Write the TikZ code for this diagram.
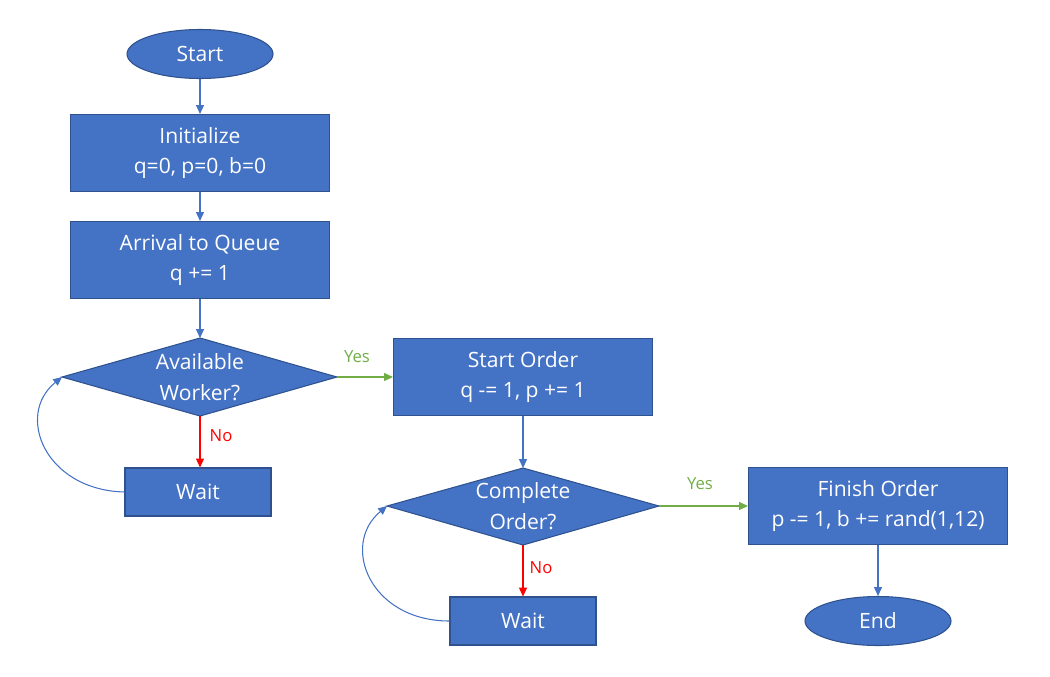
\documentclass[tikz,border=0pt]{standalone}
\usepackage{fontspec}
\setmainfont{Open Sans}
\usetikzlibrary{shapes.geometric,arrows.meta}
\definecolor{boxfill}{HTML}{4472C4}
\definecolor{boxline}{HTML}{2F528F}
\definecolor{yesgreen}{HTML}{70AD47}
\definecolor{nored}{HTML}{FF0000}
\tikzset{
  base/.style={fill=boxfill,draw=boxline,line width=0.6pt,text=white,align=center,inner sep=0pt,
    font=\fontsize{12}{17.6}\selectfont},
  procbox/.style={base,rectangle,minimum width=259*0.02cm,minimum height=77*0.02cm},
  waitbox/.style={base,rectangle,minimum width=146*0.02cm,minimum height=48*0.02cm},
  termnode/.style={base,ellipse,minimum width=146*0.02cm,minimum height=49*0.02cm},
  dectext/.style={text=white,align=center,inner sep=0pt,font=\fontsize{12}{17.6}\selectfont},
  decfill/.style={fill=boxfill,draw=boxline,line width=0.6pt},
  flow/.style={draw=boxfill,line width=0.6pt,-{Triangle[length=5pt,width=4.5pt]}},
  yesflow/.style={draw=yesgreen,line width=0.6pt,-{Triangle[length=5pt,width=4.5pt]}},
  noflow/.style={draw=nored,line width=0.6pt,-{Triangle[length=5pt,width=4.5pt]}},
  yeslab/.style={text=yesgreen,font=\fontsize{9.5}{11}\selectfont},
  nolab/.style={text=nored,font=\fontsize{9.5}{11}\selectfont},
}
\begin{document}
\begin{tikzpicture}[x=0.02cm,y=-0.02cm]
\useasboundingbox (0,0) rectangle (1050,676);
\node[termnode] (start) at (200,54) {Start};
\node[procbox] (init) at (200,153) {Initialize\\q=0, p=0, b=0};
\node[procbox] (arr) at (200,260) {Arrival to Queue\\q += 1};
\path (62,377) coordinate (d1l) (337,377) coordinate (d1r) (200,338) coordinate (d1t) (200,416) coordinate (d1b);
\path[decfill] (d1l) -- (d1t) -- (d1r) -- (d1b) -- cycle;
\node[dectext] (avail) at (200,377) {Available\\Worker?};
\node[waitbox] (wait1) at (198,492) {Wait};
\node[procbox] (sorder) at (523,377) {Start Order\\q -= 1, p += 1};
\path (387,506) coordinate (d2l) (659,506) coordinate (d2r) (523,468) coordinate (d2t) (523,545) coordinate (d2b);
\path[decfill] (d2l) -- (d2t) -- (d2r) -- (d2b) -- cycle;
\node[dectext] (comp) at (523,506) {Complete\\Order?};
\node[waitbox] (wait2) at (523,621) {Wait};
\node[procbox] (forder) at (878,506) {Finish Order\\p -= 1, b += rand(1,12)};
\node[termnode] (end) at (878,621) {End};

\draw[flow] (start.south) -- (init.north);
\draw[flow] (init.south) -- (arr.north);
\draw[flow] (arr.south) -- (d1t);
\draw[yesflow] (d1r) -- (sorder.west);
\node[yeslab] (yes1) at (357,357) {Yes};
\draw[noflow] (d1b) -- (wait1.north -| d1b);
\node[nolab] (no1) at (221,436) {No};
\draw[flow] (wait1.west) .. controls (45,490) and (15,415) .. (d1l);
\draw[flow] (sorder.south) -- (d2t);
\draw[yesflow] (d2r) -- (forder.west);
\node[yeslab] (yes2) at (700,484) {Yes};
\draw[noflow] (d2b) -- (wait2.north);
\node[nolab] (no2) at (541,568) {No};
\draw[flow] (wait2.west) .. controls (370,621) and (340,545) .. (d2l);
\draw[flow] (forder.south) -- (end.north);
\end{tikzpicture}
\end{document}
